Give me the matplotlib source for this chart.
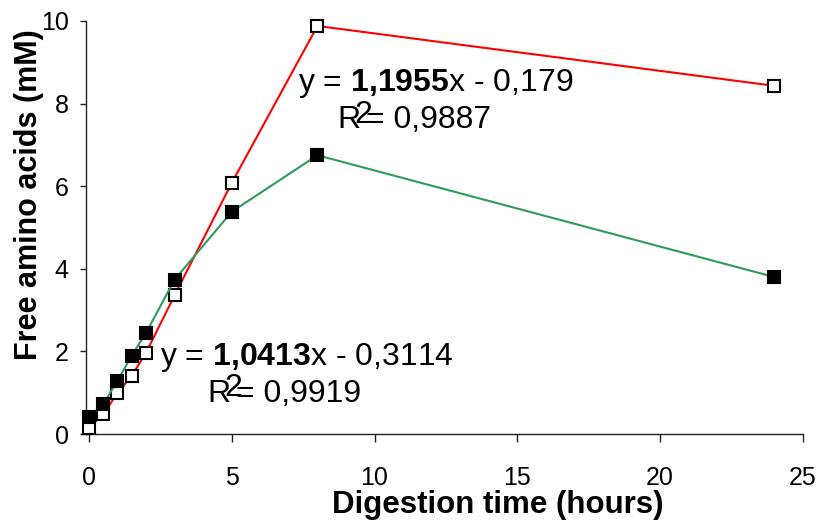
import matplotlib
matplotlib.use("Agg")
import matplotlib.pyplot as plt

plt.rcParams['font.family'] = ['Liberation Sans', 'DejaVu Sans']
plt.rcParams['mathtext.fontset'] = 'custom'
plt.rcParams['mathtext.rm'] = 'Liberation Sans'
plt.rcParams['mathtext.bf'] = 'Liberation Sans:bold'

time_h = [0, 0.5, 1, 1.5, 2, 3, 5, 8, 24]
open_series = [0.15, 0.48, 0.99, 1.41, 1.97, 3.36, 6.08, 9.88, 8.43]
filled_series = [0.41, 0.72, 1.29, 1.90, 2.45, 3.74, 5.38, 6.75, 3.80]
x_ticks = [0, 5, 10, 15, 20, 25]
y_ticks = [0, 2, 4, 6, 8, 10]

W, H = 823, 524
fig = plt.figure(figsize=(W / 100, H / 100), dpi=100)
ax = fig.add_axes([85.5 / W, 90 / H, (803 - 85.5) / W, (434 - 21) / H])

ax.plot(time_h, open_series, color='#ff0000', lw=1.5, marker='s', ms=8.5,
        mfc='white', mec='black', mew=1.5, clip_on=False, zorder=3)
ax.plot(time_h, filled_series, color='#2e9a5c', lw=1.5, marker='s', ms=8.5,
        mfc='black', mec='black', mew=1.5, clip_on=False, zorder=3)

ax.set_xlim(-0.12, 25)
ax.set_ylim(0, 10)
ax.set_xticks(x_ticks)
ax.set_yticks(y_ticks)
ax.spines['top'].set_visible(False)
ax.spines['right'].set_visible(False)
for s in ('left', 'bottom'):
    ax.spines[s].set_color('#222222')
    ax.spines[s].set_linewidth(1.0)
ax.tick_params(axis='x', direction='out', length=6, width=1, pad=17, labelsize=18, color='#222222')
ax.tick_params(axis='y', direction='out', length=4, width=1, pad=8, labelsize=18, color='#222222')

# axis titles placed in figure pixels, as in the reference
fig.text(498 / W, 1 - 513 / H, "Digestion time (hours)", fontsize=22.5,
         fontweight='bold', ha='center', va='baseline')
fig.text(29 / W, 1 - 195 / H, "Free amino acids (mM)", fontsize=22,
         fontweight='bold', ha='center', va='center', rotation=90)


def fig_text(x, y, s):
    fig.text(x / W, 1 - y / H, s, fontsize=23, ha='left', va='baseline')


fig_text(298, 91, r"y = $\mathbf{1{,}1955}$x - 0,179")
fig_text(337, 128, "R")
fig_text(354, 123, "2")
fig_text(366, 128, "= 0,9887")

fig_text(160, 365, r"y = $\mathbf{1{,}0413}$x - 0,3114")
fig_text(207, 402, "R")
fig_text(224, 396, "2")
fig_text(236, 402, "= 0,9919")

fig.savefig("out.png", dpi=100)
